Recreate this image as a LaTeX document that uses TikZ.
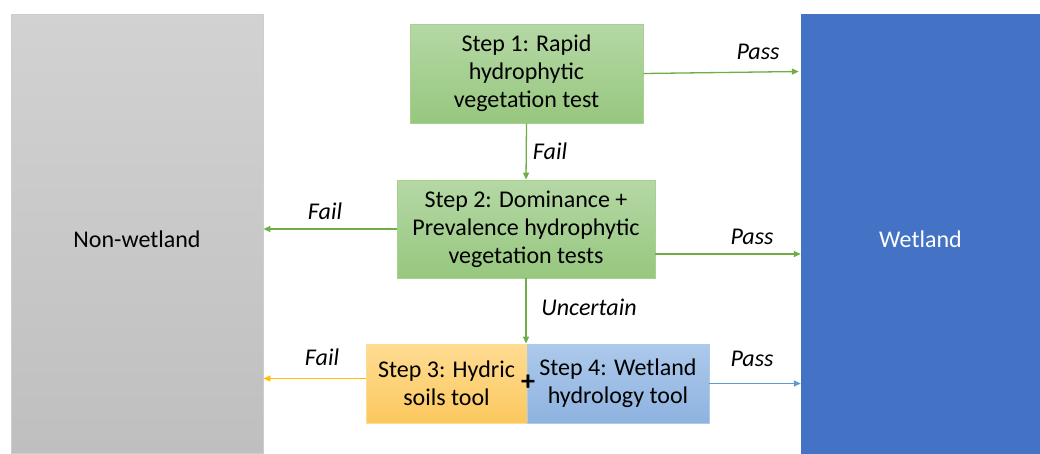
\documentclass[tikz,border=0pt]{standalone}
\usepackage{fontspec}
\setmainfont{Carlito}
\usetikzlibrary{arrows.meta,calc}
\definecolor{grnTop}{HTML}{B5D8A5}
\definecolor{grnBot}{HTML}{97C77F}
\definecolor{grnLine}{HTML}{70AD47}
\definecolor{grnEdge}{HTML}{A9D18E}
\definecolor{orTop}{HTML}{FFDC93}
\definecolor{orBot}{HTML}{FBC85E}
\definecolor{orLine}{HTML}{FFC000}
\definecolor{blTop}{HTML}{ADC9EB}
\definecolor{blBot}{HTML}{8EB3E0}
\definecolor{blLine}{HTML}{5B9BD5}
\definecolor{wetBlue}{HTML}{4472C4}
\definecolor{grayTop}{HTML}{D2D2D2}
\definecolor{grayBot}{HTML}{BFBFBF}
\tikzset{
  box/.style={draw, line width=0.8pt, align=center, font=\fontsize{24}{28}\selectfont, inner sep=0pt},
  greenbox/.style={box, draw=grnEdge, top color=grnTop, bottom color=grnBot},
  orangebox/.style={box, draw=orTop, top color=orTop, bottom color=orBot},
  bluebox/.style={box, draw=blTop, top color=blTop, bottom color=blBot},
  bigbox/.style={minimum width=#1, minimum height=439pt, font=\fontsize{24}{28}\selectfont, inner sep=0pt, text height=28pt, text depth=0pt},
  lbl/.style={font=\fontsize{24}{28}\selectfont\itshape},
  conn/.style={line width=1.3pt, -{Triangle[length=7pt,width=6pt]}},
}
\begin{document}
\begin{tikzpicture}[x=1pt,y=-1pt]
\useasboundingbox (0,0) rectangle (1040,453);
\node[bigbox=252pt, draw=grayBot!90!black!60, line width=0.8pt, top color=grayTop, bottom color=grayBot] (nonwet) at (137,233.5) {Non-wetland};
\node[bigbox=239pt, draw=wetBlue, fill=wetBlue, text=white] (wet) at (920.5,233.5) {Wetland};
\node[greenbox, minimum width=233pt, minimum height=99pt] (s1) at (526.5,73.5) {Step 1: Rapid\\hydrophytic\\vegetation test};
\node[greenbox, minimum width=258pt, minimum height=98pt] (s2) at (526,229) {Step 2: Dominance +\\Prevalence hydrophytic\\vegetation tests};
\node[orangebox, minimum width=161pt, minimum height=79pt] (s3) at (446.5,383.5) {Step 3: Hydric\\soils tool};
\node[bluebox, minimum width=182pt, minimum height=79pt] (s4) at (618,383.5) {Step 4: Wetland\\hydrology tool};
\node[font=\fontsize{28}{28}\selectfont\bfseries, inner sep=0pt] (plus) at (528,383) {+};
% connectors
\coordinate (p1) at ([yshift=2pt]s1.east -| wet.west);
\draw[conn, draw=grnLine, fill=grnLine] (s1.east) -- ([xshift=-2pt]p1);
\node[lbl] (l1) at (758,52) {Pass};
\draw[conn, draw=grnLine, fill=grnLine] (s1.south) -- (s2.north);
\node[lbl] (l2) at (550,151) {Fail};
\draw[conn, draw=grnLine, fill=grnLine] (s2.west) -- (s2.west -| nonwet.east);
\node[lbl] (l3) at (325,211) {Fail};
\coordinate (s2r) at ([yshift=-25pt]s2.east);
\draw[conn, draw=grnLine, fill=grnLine] (s2r) -- (s2r -| wet.west);
\node[lbl] (l4) at (752,237) {Pass};
\draw[conn, draw=grnLine, fill=grnLine] (s2.south) -- (s2.south |- s3.north);
\node[lbl] (l5) at (589,307) {Uncertain};
\coordinate (s3l) at ([yshift=5pt]s3.west);
\draw[conn, draw=orLine, fill=orLine] (s3l) -- (s3l -| nonwet.east);
\node[lbl] (l6) at (322,357) {Fail};
\draw[conn, draw=blLine, fill=blLine] (s4.east) -- (s4.east -| wet.west);
\node[lbl] (l7) at (752,359) {Pass};
\end{tikzpicture}
\end{document}
